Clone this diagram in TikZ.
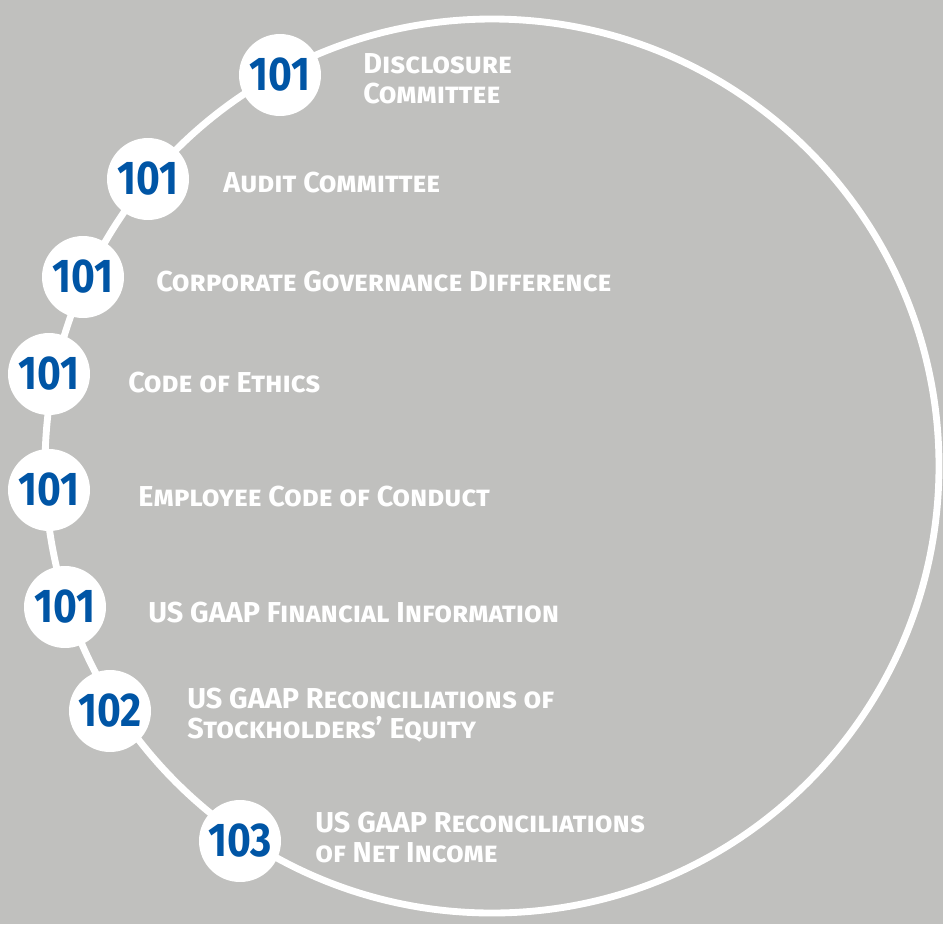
\documentclass[tikz,border=0pt]{standalone}
\usepackage{fontspec}
\setmainfont{Fira Sans}
\usepackage{graphicx}
\definecolor{bg}{HTML}{C0C0BE}
\definecolor{ring}{HTML}{FFFFFF}
\definecolor{numblue}{HTML}{0055A5}
\tikzset{
  ringLine/.style={draw=ring, line width=3.9pt},
  stopDot/.style={circle, fill=ring, minimum size=1.64cm, inner sep=0pt,
    text=numblue, font=\fontsize{27}{27}\selectfont\bfseries},
  stopLbl/.style={anchor=base west, inner sep=0pt, text=white, align=left,
    font=\fontsize{16.4}{17}\selectfont\bfseries\scshape},
}
\newcommand{\stopNum}[1]{\scalebox{0.86}[1]{#1}}
\newcommand{\RingStops}{%
  \coordinate (O) at (492,466);
  \coordinate (s1) at (280,75);
  \coordinate (s2) at (148,179);
  \coordinate (s3) at (83,277);
  \coordinate (s4) at (49,374);
  \coordinate (s5) at (49,490);
  \coordinate (s6) at (65,607);
  \coordinate (s7) at (110,711);
  \coordinate (s8) at (240,841);
}

\begin{document}
\begin{tikzpicture}[x=0.02cm, y=-0.02cm]
  \fill[bg] (0,0) rectangle (943,924);
  \useasboundingbox (0,0) rectangle (943,924);
  \RingStops
  \draw[ringLine] (O) circle[radius=447];

  \node[stopDot] (n1) at (s1) {\stopNum{101}};
  \node[stopDot] (n2) at (s2) {\stopNum{101}};
  \node[stopDot] (n3) at (s3) {\stopNum{101}};
  \node[stopDot] (n4) at (s4) {\stopNum{101}};
  \node[stopDot] (n5) at (s5) {\stopNum{101}};
  \node[stopDot] (n6) at (s6) {\stopNum{101}};
  \node[stopDot] (n7) at (s7) {\stopNum{102}};
  \node[stopDot] (n8) at (s8) {\stopNum{103}};

  % two-line labels sit on the baseline of their last line
  \node[stopLbl] (l1) at (363,103) {Disclosure\\Committee};
  \node[stopLbl] (l2) at (223,192) {Audit Committee};
  \node[stopLbl] (l3) at (156,291) {Corporate Governance Difference};
  \node[stopLbl] (l4) at (128,392) {Code of Ethics};
  \node[stopLbl] (l5) at (138,506) {Employee Code of Conduct};
  \node[stopLbl] (l6) at (148,622) {US GAAP Financial Information};
  \node[stopLbl] (l7) at (187,738) {US GAAP Reconciliations of\\Stockholders’ Equity};
  \node[stopLbl] (l8) at (315,862) {US GAAP Reconciliations\\of Net Income};
\end{tikzpicture}
\end{document}
